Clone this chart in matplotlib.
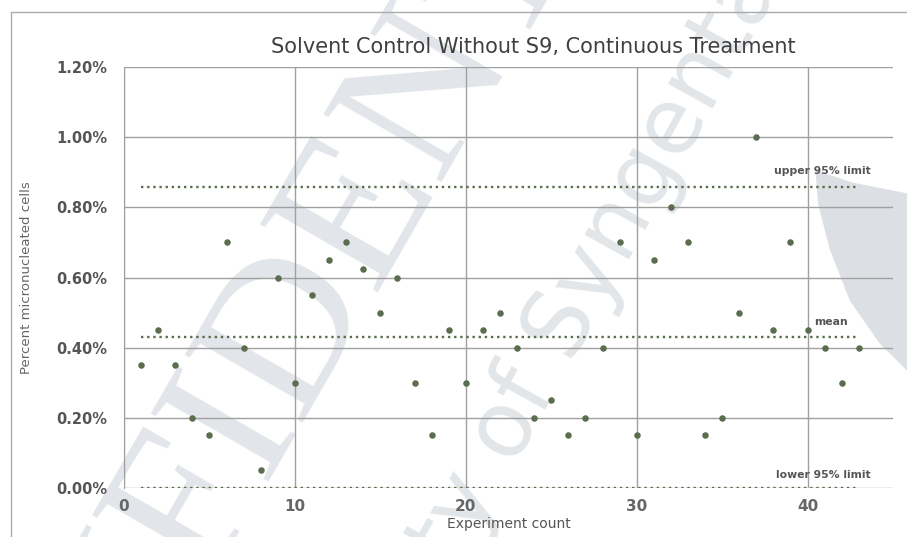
"""Solvent control without S9, continuous treatment - historical control scatter."""

import matplotlib

matplotlib.use("Agg")
import matplotlib.pyplot as plt
from matplotlib.patches import Polygon, Rectangle
from matplotlib.ticker import FuncFormatter, MultipleLocator

# percent micronucleated cells per experiment
experiment = list(range(1, 44))
percent_mn = [
    0.35, 0.45, 0.35, 0.20, 0.15, 0.70, 0.40, 0.05, 0.60, 0.30,
    0.55, 0.65, 0.70, 0.625, 0.50, 0.60, 0.30, 0.15, 0.45, 0.30,
    0.45, 0.50, 0.40, 0.20, 0.25, 0.15, 0.20, 0.40, 0.70, 0.15,
    0.65, 0.80, 0.70, 0.15, 0.20, 0.50, 1.00, 0.45, 0.70, 0.45,
    0.40, 0.30, 0.40,
]
limit_names = ["upper 95% limit", "mean", "lower 95% limit"]
limit_values = [0.858, 0.43, 0.0]

GREEN = "#5b6d4f"
GRID = "#a0a0a0"

fig = plt.figure(figsize=(9.07, 5.37), dpi=100)
ax = fig.add_axes([0.1367, 0.0912, 0.8479, 0.784])
ax.xaxis.set_zorder(1)
ax.yaxis.set_zorder(1)

# watermark behind the points
wm = dict(transform=fig.transFigure, clip_on=False, zorder=0.6,
          ha="center", va="center", rotation_mode="anchor")
ax.text(0.355, 0.49, "CONFIDENTIAL", fontsize=150, family="Liberation Serif",
        color="#e2e5e9", rotation=60, **wm)
ax.text(0.578, 0.264, "Property of Syngenta", fontsize=66, family="DejaVu Sans",
        color="#e3e6e9", rotation=61, **wm)
# grey blob at the right edge (part of a watermark glyph)
fig.patches.append(Polygon(
    [(0.899, 0.683), (0.94, 0.66), (1.0, 0.64), (1.0, 0.31), (0.97, 0.36),
     (0.937, 0.44), (0.915, 0.535), (0.902, 0.62)],
    closed=True, transform=fig.transFigure, facecolor="#dcdfe3", edgecolor="none",
    zorder=-1))

ax.scatter(experiment, percent_mn, s=22, color=GREEN, zorder=4, linewidths=0)

for name, val in zip(limit_names, limit_values):
    ax.plot([experiment[0], experiment[-1]], [val, val], color=GREEN, lw=1.7,
            ls=(0, (1, 1.6)), zorder=3)

lab = dict(fontsize=7.8, weight="bold", color="#555555", zorder=5, va="center")
ax.text(43.7, limit_values[0] + 0.045, limit_names[0], ha="right", **lab)
ax.text(40.4, limit_values[1] + 0.042, limit_names[1], ha="left", **lab)
ax.text(43.7, limit_values[2] + 0.037, limit_names[2], ha="right", **lab)

ax.set_xlim(0, 45)
ax.set_ylim(0, 1.2)
ax.set_facecolor("none")
ax.xaxis.set_major_locator(MultipleLocator(10))
ax.yaxis.set_major_locator(MultipleLocator(0.2))
ax.yaxis.set_major_formatter(FuncFormatter(lambda v, _: f"{v:.2f}%"))
ax.grid(True, color=GRID, lw=1.0)
for side in ["top", "right", "bottom"]:
    ax.spines[side].set_visible(False)
ax.spines["left"].set_color(GRID)
ax.tick_params(length=0)
ax.tick_params(axis="y", pad=12, labelsize=10.5, labelcolor="#555555")
ax.tick_params(axis="x", pad=8, labelsize=11, labelcolor="#666666")
for t in ax.get_yticklabels() + ax.get_xticklabels():
    t.set_fontweight("bold")

ax.set_ylabel("Percent micronucleated cells", fontsize=9.5, color="#666666")
ax.yaxis.set_label_coords(-0.118, 0.5)
ax.set_xlabel("Experiment count", fontsize=10, color="#555555", labelpad=2)

fig.text(0.588, 0.912, "Solvent Control Without S9, Continuous Treatment",
         ha="center", va="center", fontsize=15, family="Liberation Sans Narrow",
         color="#404040")

# outer chart frame
fig.patches.append(Rectangle((0.012, -0.1), 1.1, 1.078, transform=fig.transFigure,
                             fill=False, edgecolor="#aaaaaa", lw=1.0))

fig.savefig("out.png", dpi=100, facecolor="white")
